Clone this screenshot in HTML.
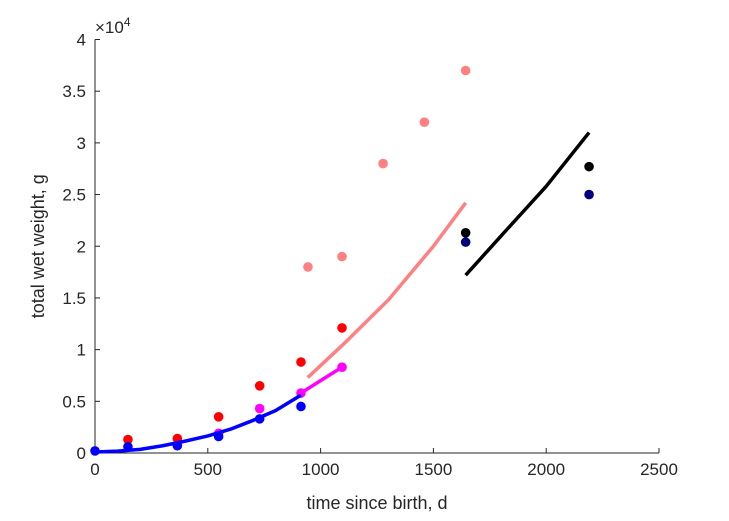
<!DOCTYPE html>
<html><head><meta charset="utf-8"><style>
body{margin:0;background:#fff;}
svg{display:block;font-family:"Liberation Sans",sans-serif;}
</style></head><body>
<svg id="chart" width="729" height="521">
<g id="axes"></g>
<g id="marks"></g>
</svg>
<script>
const xTicks=[0,500,1000,1500,2000,2500];
const yTicks=[0,0.5,1,1.5,2,2.5,3,3.5,4];
const yTickLabels=["0","0.5","1","1.5","2","2.5","3","3.5","4"];
const redT=[146,365,548,730,913,1095];
const redW=[1300,1400,3500,6500,8800,12100];
const blueT=[0,146,365,548,730,913];
const blueW=[200,600,700,1600,3300,4500];
const magT=[548,730,913,1095];
const magW=[1900,4300,5800,8300];
const pinkT=[944,1095,1277,1460,1643];
const pinkW=[18000,19000,28000,32000,37000];
const blackT=[1643,2190];
const blackW=[21300,27700];
const navyT=[1643,2190];
const navyW=[20400,25000];
const blueCurveT=[0,100,200,300,400,500,600,700,800,913];
const blueCurveW=[100,180,350,700,1150,1650,2300,3150,4100,5600];
const magCurveT=[913,1000,1095];
const magCurveW=[5800,7000,8300];
const pinkCurveT=[943,1100,1300,1500,1643];
const pinkCurveW=[7300,10500,14800,20000,24200];
const blackCurveT=[1643,1800,2000,2190];
const blackCurveW=[17200,21000,25800,31000];

const X0=95,X1=659,Y0=453,Y1=39.5;
const sx=t=>X0+(t/2500)*(X1-X0);
const sy=w=>Y0-(w/40000)*(Y0-Y1);
const NS="http://www.w3.org/2000/svg";
const ax=document.getElementById('axes'),mk=document.getElementById('marks');
function el(tag,attrs,parent){const e=document.createElementNS(NS,tag);for(const k in attrs)e.setAttribute(k,attrs[k]);parent.appendChild(e);return e;}

let a=el('line',{x1:X0,y1:Y0,x2:X1,y2:Y0,stroke:'#262626','stroke-width':1},ax);


a=el('line',{x1:X0,y1:Y0,x2:X0,y2:Y1,stroke:'#262626','stroke-width':1},ax);


xTicks.forEach(v=>{
 const x=sx(v);
 const t=el('line',{x1:x,y1:Y0,x2:x,y2:Y0-5,stroke:'#262626'},ax);
 
 
 const l=el('text',{x:x,y:Y0+22,'text-anchor':'middle','font-size':17,fill:'#262626'},ax);
 l.textContent=v;
 
 
});
yTicks.forEach((v,i)=>{
 const y=sy(v*10000);
 const t=el('line',{x1:X0,y1:y,x2:X0+5,y2:y,stroke:'#262626'},ax);
 
 
 const l=el('text',{x:X0-9,y:y+6,'text-anchor':'end','font-size':17,fill:'#262626'},ax);
 l.textContent=yTickLabels[i];
 
 
});
let ex=el('text',{x:X0,y:33,'font-size':17,fill:'#262626'},ax);
ex.innerHTML='×10<tspan dy="-7" font-size="12">4</tspan>';


let xl=el('text',{x:(X0+X1)/2,y:509,'text-anchor':'middle','font-size':18,fill:'#262626'},ax);
xl.textContent='time since birth, d';


let yl=el('text',{x:0,y:0,'text-anchor':'middle','font-size':18,fill:'#262626',transform:`translate(44,${(Y0+Y1)/2}) rotate(-90)`},ax);
yl.textContent='total wet weight, g';



function curve(T,W,color,name){
 const p=el('polyline',{points:T.map((t,i)=>sx(t)+','+sy(W[i])).join(' '),fill:'none',stroke:color,'stroke-width':3.5,'stroke-linecap':'butt','stroke-linejoin':'round'},mk);
 
 
}
function pts(T,W,color,name){
 T.forEach((t,i)=>{
  const c=el('circle',{cx:sx(t),cy:sy(W[i]),r:4.8,fill:color},mk);
  
  
 });
}
pts(redT,redW,'#ff0000','red-point');
pts(magT,magW,'#ff00ff','magenta-point');
pts(pinkT,pinkW,'#ff8080','pink-point');
curve(pinkCurveT,pinkCurveW,'#ff8080','pink-curve');
curve(magCurveT,magCurveW,'#ff00ff','magenta-curve');
curve(blueCurveT,blueCurveW,'#0000ff','blue-curve');
curve(blackCurveT,blackCurveW,'#000000','black-curve');
pts(blueT,blueW,'#0000ff','blue-point');
pts(blackT,blackW,'#000000','black-point');
pts(navyT,navyW,'#000080','navy-point');
</script>
</body></html>
